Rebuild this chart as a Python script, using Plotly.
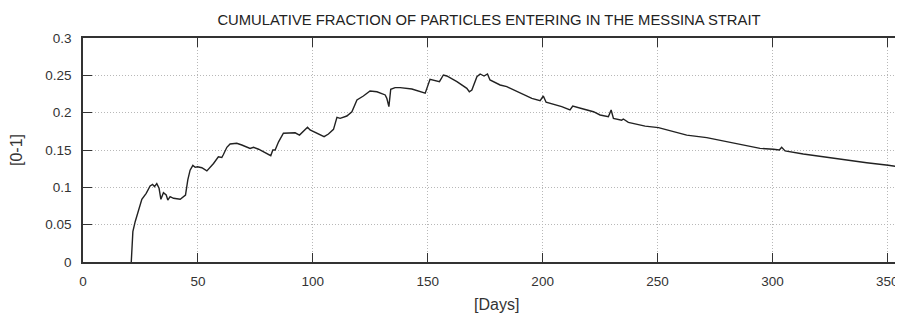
import plotly.graph_objects as go

days = [21.0, 21.7, 22.7, 24.2, 25.6, 27.5, 29.2, 30.3, 31.1, 32.1, 33.1, 33.9, 35.0, 36.2, 36.9,
        37.9, 39.4, 42.3, 43.7, 44.6, 45.6, 46.6, 47.8, 48.8, 49.8, 51.7, 53.9, 55.3, 56.8, 58.9,
        60.4, 61.1, 62.6, 64.0, 66.9, 69.1, 72.7, 74.2, 76.4, 81.7, 82.6, 83.6, 85.1, 87.2, 90.1,
        92.3, 94.2, 95.9, 97.7, 98.8, 101.7, 104.9, 106.8, 109.0, 110.5, 111.9, 114.8, 117.0, 119.2,
        122.0, 124.9, 127.9, 131.5, 132.2, 133.1, 133.9, 135.8, 138.0, 143.1, 148.9, 151.0, 153.2,
        155.1, 156.8, 158.3, 162.7, 167.0, 168.1, 169.2, 171.4, 172.8, 174.5, 176.0, 177.1, 179.3,
        181.5, 184.4, 190.2, 195.3, 198.9, 200.3, 201.5, 204.7, 208.3, 211.9, 213.1, 217.7, 222.1,
        225.0, 228.6, 229.8, 230.8, 234.4, 235.1, 237.3, 244.6, 250.4, 262.7, 271.4, 282.3, 294.6,
        300.4, 303.0, 304.0, 305.5, 313.4, 329.4, 341.0, 350.4, 357.0]
fraction = [0.0, 0.0406, 0.054, 0.0696, 0.084, 0.092, 0.1018, 0.104, 0.101, 0.105, 0.0987, 0.084,
            0.0928, 0.0897, 0.083, 0.0875, 0.0853, 0.084, 0.0875, 0.0897, 0.11, 0.123, 0.1295,
            0.1268, 0.1276, 0.1263, 0.122, 0.1263, 0.132, 0.141, 0.140, 0.144, 0.1536, 0.158, 0.159,
            0.1567, 0.152, 0.1536, 0.151, 0.1424, 0.150, 0.150, 0.161, 0.1724, 0.173, 0.173, 0.170,
            0.1745, 0.1804, 0.1768, 0.1724, 0.1678, 0.1714, 0.1777, 0.1938, 0.1924, 0.1955, 0.2013,
            0.217, 0.2223, 0.229, 0.228, 0.2237, 0.2192, 0.208, 0.2313, 0.2335, 0.2335, 0.2317,
            0.226, 0.2447, 0.2428, 0.2415, 0.2505, 0.2491, 0.2415, 0.2326, 0.228, 0.2304, 0.2482,
            0.2518, 0.2491, 0.2518, 0.2438, 0.2402, 0.2371, 0.2348, 0.2268, 0.2192, 0.216, 0.2223,
            0.2139, 0.2116, 0.208, 0.2036, 0.2089, 0.2049, 0.2013, 0.1969, 0.1946, 0.2036, 0.1924,
            0.190, 0.1915, 0.187, 0.182, 0.1799, 0.170, 0.1665, 0.1598, 0.1522, 0.151, 0.150, 0.1536,
            0.1487, 0.1446, 0.1375, 0.133, 0.1295, 0.1268]

x_ticks = [0, 50, 100, 150, 200, 250, 300, 350]
y_ticks = [0, 0.05, 0.1, 0.15, 0.2, 0.25, 0.3]
y_tick_text = ["0", "0.05", "0.1", "0.15", "0.2", "0.25", "0.3"]

title = "CUMULATIVE FRACTION OF PARTICLES ENTERING IN THE MESSINA STRAIT"

FONT = "Liberation Sans, Arial, sans-serif"

# The page body has an 8px margin, so figure coordinates = picture coordinates - 8.
W, H = 895, 310
L, T, B = 75, 30, 56
PW, PH = W - L, H - T - B

fig = go.Figure()
fig.add_trace(go.Scatter(x=days, y=fraction, mode="lines",
                         line=dict(color="#222222", width=1.4), showlegend=False,
                         cliponaxis=True))

fig.update_layout(
    width=W, height=H,
    margin=dict(l=L, r=0, t=T, b=B, pad=0, autoexpand=False),
    paper_bgcolor="white", plot_bgcolor="white",
    font=dict(family=FONT, size=13.5, color="#333333"),
    title=dict(text=title, x=481 / W, xref="container", xanchor="center",
               y=1 - 12 / H, yref="container", yanchor="middle",
               font=dict(family=FONT, size=14.8, color="#222222")),
    xaxis=dict(range=[0, 356.8], tickvals=x_ticks, ticks="inside", ticklen=9,
               tickwidth=1.2, tickcolor="#333333",
               showline=True, linecolor="#333333", linewidth=1.6, mirror="ticks",
               showgrid=True, gridcolor="#b8b8b8", griddash="1px,2px", gridwidth=1,
               zeroline=False, automargin=False, ticklabelstandoff=6,
               tickfont=dict(size=13.5, color="#333333")),
    yaxis=dict(range=[0, 0.3], tickvals=y_ticks, ticktext=y_tick_text, ticks="inside",
               ticklen=9, tickwidth=1.2, tickcolor="#333333",
               showline=True, linecolor="#333333", linewidth=1.6,
               showgrid=True, gridcolor="#b8b8b8", griddash="1px,2px", gridwidth=1,
               zeroline=False, automargin=False, ticklabelstandoff=7,
               tickfont=dict(size=13.5, color="#333333")),
    annotations=[
        dict(text="[Days]", xref="paper", yref="paper", x=(488 - L) / PW, y=-(296 - 254) / PH,
             xanchor="center", yanchor="middle", showarrow=False,
             font=dict(family=FONT, size=16, color="#333333")),
        dict(text="[0-1]", xref="paper", yref="paper", x=-(L - 8) / PW, y=0.5,
             xanchor="center", yanchor="middle", showarrow=False, textangle=-90,
             font=dict(family=FONT, size=16, color="#333333")),
    ],
)

fig.write_html("out.html")
